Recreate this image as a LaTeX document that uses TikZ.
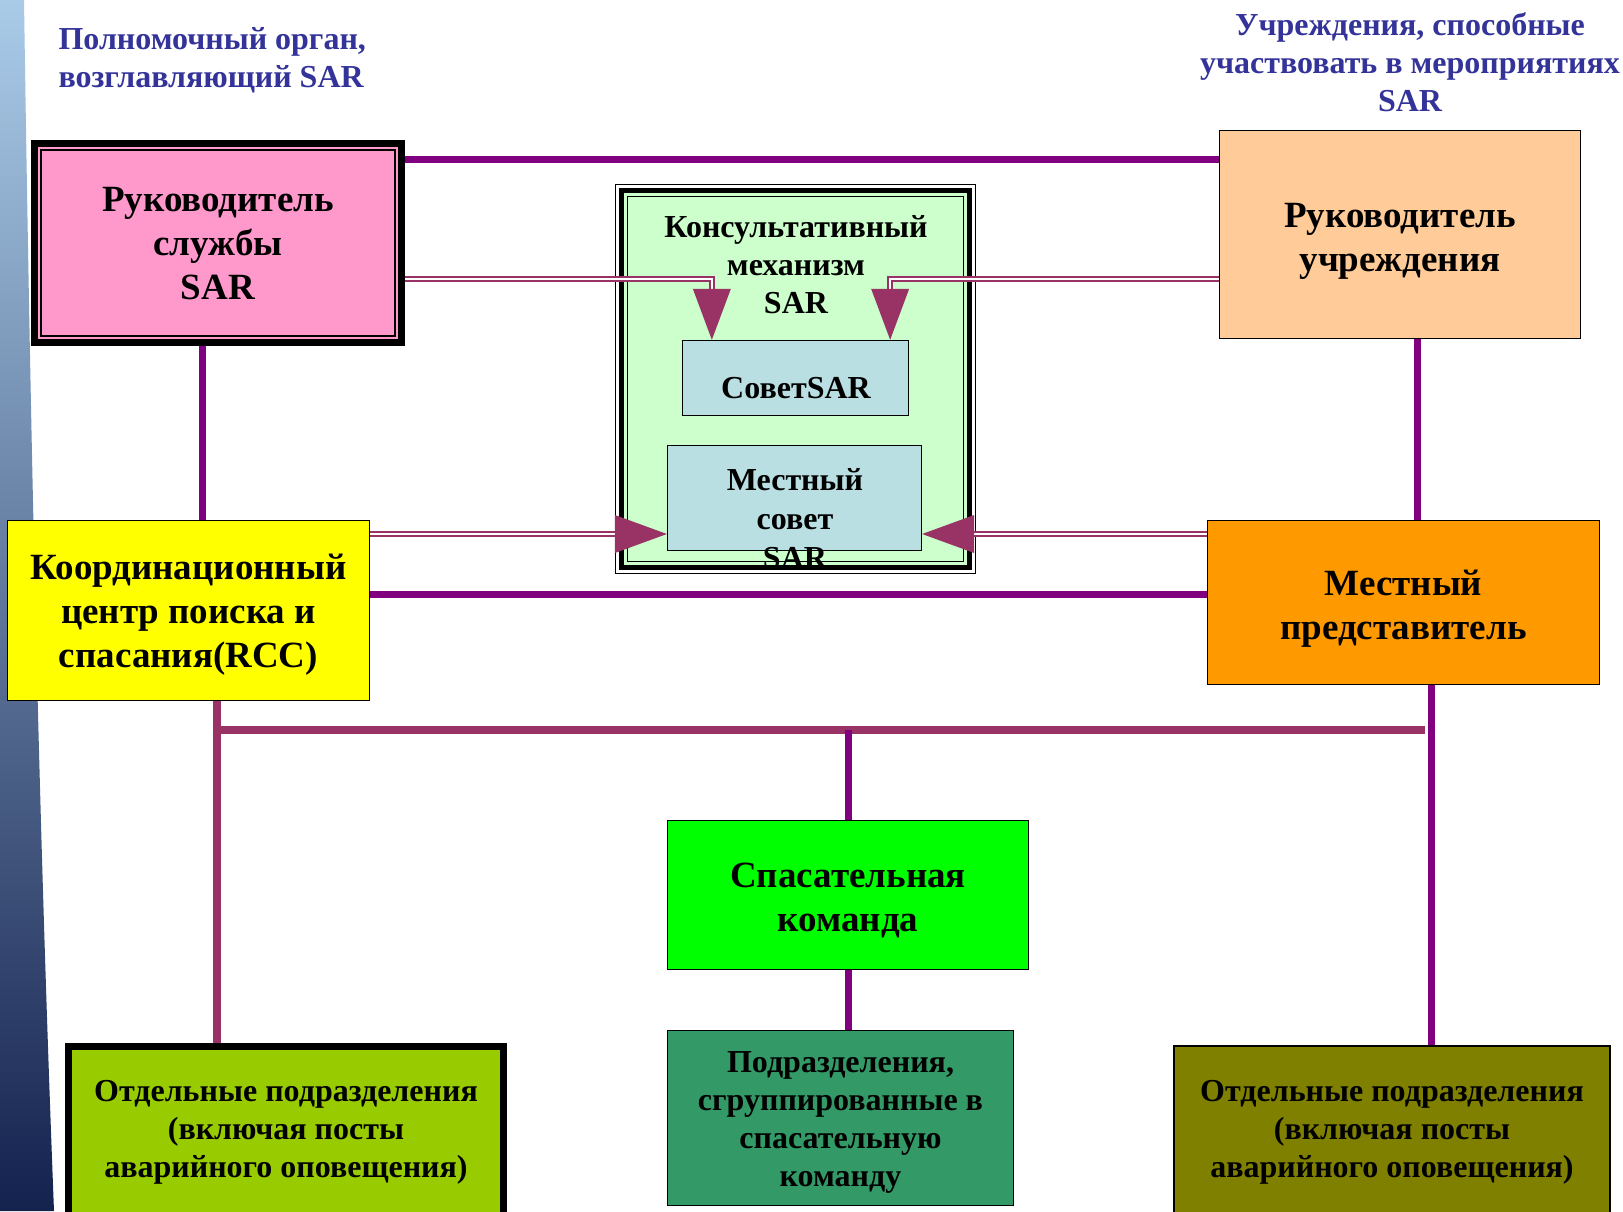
\documentclass[tikz,border=0pt]{standalone}
\usepackage{fontspec}
\setmainfont{Liberation Serif}
\usetikzlibrary{calc}
\definecolor{titleblue}{HTML}{333399}
\definecolor{pinkfill}{HTML}{FF99CC}
\definecolor{peachfill}{HTML}{FFCC99}
\definecolor{consultfill}{HTML}{CCFFCC}
\definecolor{councilfill}{HTML}{B9DFE3}
\definecolor{rccfill}{HTML}{FFFF00}
\definecolor{orangefill}{HTML}{FF9900}
\definecolor{rescuefill}{HTML}{00FF00}
\definecolor{unitsfill}{HTML}{339966}
\definecolor{limefill}{HTML}{99CC00}
\definecolor{olivefill}{HTML}{808000}
\definecolor{purp}{HTML}{800080}
\definecolor{plum}{HTML}{993366}
\definecolor{stripA}{HTML}{A9CBE8}
\definecolor{stripB}{HTML}{4A70B8}
\definecolor{stripC}{HTML}{14224E}
\begin{document}
\begin{tikzpicture}[x=1pt,y=-1pt,
  box/.style={draw=black, line width=1.6pt, inner sep=0pt},
  bigtxt/.style={align=center, font=\fontsize{37}{44}\selectfont\bfseries},
  midtxt/.style={align=center, font=\fontsize{32}{38}\selectfont\bfseries},
  smalltxt/.style={align=center, font=\fontsize{32}{38}\selectfont\bfseries},
  purpline/.style={draw=purp, line width=7pt},
  plumline/.style={draw=plum, line width=7.5pt},
  dblline/.style={draw=plum, line width=1.8pt, double=white, double distance=2.6pt},
  tiptri/.style={fill=plum}
]
\useasboundingbox (0,0) rectangle (1623,1211);
\clip (0,0) rectangle (1623,1211);
\fill[white] (0,0) rectangle (1623,1211);
% left decorative strip
\shade[top color=stripA, middle color=stripB, bottom color=stripC]
  (0,0) -- (24,0) .. controls (30,400) and (38,800) .. (54,1211) -- (0,1211) -- cycle;

% titles
\node[midtxt, text=titleblue, align=left, anchor=west] (tl) at (55,60)
  {Полномочный орган,\\возглавляющий SAR};
\node[midtxt, text=titleblue] (tr) at (1410,62)
  {Учреждения, способные\\участвовать в мероприятиях\\SAR};

% boxes
\node[box, line width=7pt, fill=pinkfill, minimum width=367pt, minimum height=199pt] (pink) at (218,243) {};
\draw[line width=1.5pt] ($(pink.north west)+(10,10)$) rectangle ($(pink.south east)+(-10,-10)$);
\node[bigtxt] (pinktxt) at ([yshift=-1pt]pink.center) {Руководитель\\службы\\SAR};

\node[box, fill=peachfill, minimum width=361pt, minimum height=208pt] (peach) at (1400,234.5) {};
\node[bigtxt] (peachtxt) at ([yshift=-7pt]peach.center) {Руководитель\\учреждения};

\node[box, line width=1pt, fill=consultfill, minimum width=360pt, minimum height=389pt] (consult) at (795.5,379) {};
\draw[white, line width=2.5pt] ($(consult.north west)+(2.4,2.4)$) rectangle ($(consult.south east)+(-2.4,-2.4)$);
\draw[black, line width=4.5pt] ($(consult.north west)+(6.3,6.3)$) rectangle ($(consult.south east)+(-6.3,-6.3)$);
\draw[black, line width=1.2pt] ($(consult.north west)+(12.5,12.5)$) rectangle ($(consult.south east)+(-12.5,-12.5)$);
\node[midtxt] (ctitle) at (796,265) {Консультативный\\механизм\\SAR};

\node[box, line width=1.3pt, fill=councilfill, minimum width=226pt, minimum height=75pt] (sovet) at (795.5,378) {};
\node[midtxt] (sovettxt) at (796,388) {СоветSAR};

\node[box, line width=1.3pt, fill=councilfill, minimum width=254pt, minimum height=105pt] (msovet) at (794.5,498) {};
\node[align=center, font=\fontsize{32}{39}\selectfont\bfseries] (msovettxt) at (795,519) {Местный\\совет\\SAR};

\node[box, fill=rccfill, minimum width=362pt, minimum height=180pt] (rcc) at (188.5,610.5) {};
\node[bigtxt] (rcctxt) at ([yshift=-4pt]rcc.center) {Координационный\\центр поиска и\\спасания(RCC)};

\node[box, fill=orangefill, minimum width=392pt, minimum height=164pt] (mp) at (1403.5,602.5) {};
\node[bigtxt] (mptxt) at ([yshift=-6pt]mp.center) {Местный\\представитель};

\node[box, fill=rescuefill, minimum width=361pt, minimum height=149pt] (rescue) at (848,895) {};
\node[bigtxt] (rescuetxt) at ([yshift=-5pt]rescue.center) {Спасательная\\команда};

\node[box, fill=unitsfill, minimum width=346pt, minimum height=175pt] (units) at (840.5,1118) {};
\node[smalltxt] (unitstxt) at ([yshift=-4pt]units.center) {Подразделения,\\сгруппированные в\\спасательную\\команду};

\node[box, line width=7pt, fill=limefill, minimum width=435pt, minimum height=172pt] (leftb) at (286,1132) {};
\node[smalltxt] (leftbtxt) at (leftb.center) {Отдельные подразделения\\(включая посты\\аварийного оповещения)};

\node[box, line width=2pt, fill=olivefill, minimum width=436pt, minimum height=172pt] (rightb) at (1392,1132) {};
\node[smalltxt] (rightbtxt) at (rightb.center) {Отдельные подразделения\\(включая посты\\аварийного оповещения)};

% solid connectors
\draw[purpline] (pink.east |- 0,159) -- (peach.west |- 0,159);
\draw[purpline] (pink.south -| 202,0) -- (rcc.north -| 202,0);
\draw[purpline] (peach.south -| 1417,0) -- (mp.north -| 1417,0);
\draw[purpline] (rcc.east |- 0,594) -- (mp.west |- 0,594);
\draw[plumline] (rcc.south -| 217,0) -- (leftb.north -| 217,0);
\draw[plumline] (217,730) coordinate (busL) -- (1425,730) coordinate (busR);
\draw[purpline] (mp.south -| 1431,0) -- (rightb.north -| 1431,0);
\draw[purpline] (rescue.north |- busL) -- (rescue.north);
\draw[purpline] (rescue.south) -- (units.north -| rescue.south);

% double connectors with arrowheads
\coordinate (tipA) at ($(sovet.north west)+(30,0)$);
\coordinate (tipB) at ($(sovet.north east)+(-19,0)$);
\draw[dblline] (pink.east |- 0,279) -| ($(tipA)+(0,-48)$);
\fill[tiptri] ($(tipA)+(-19,-51)$) -- ($(tipA)+(19,-51)$) -- (tipA) -- cycle;
\draw[dblline] (peach.west |- 0,279) -| ($(tipB)+(0,-48)$);
\fill[tiptri] ($(tipB)+(-19,-51)$) -- ($(tipB)+(19,-51)$) -- (tipB) -- cycle;

\coordinate (tipC) at (msovet.west |- 0,534);
\coordinate (tipD) at (msovet.east |- 0,534);
\draw[dblline] (rcc.east |- 0,534) -- ($(tipC)+(-50,0)$);
\fill[tiptri] ($(tipC)+(-52,-19)$) -- ($(tipC)+(-52,19)$) -- (tipC) -- cycle;
\draw[dblline] (mp.west |- 0,534) -- ($(tipD)+(50,0)$);
\fill[tiptri] ($(tipD)+(52,-19)$) -- ($(tipD)+(52,19)$) -- (tipD) -- cycle;
\end{tikzpicture}
\end{document}
